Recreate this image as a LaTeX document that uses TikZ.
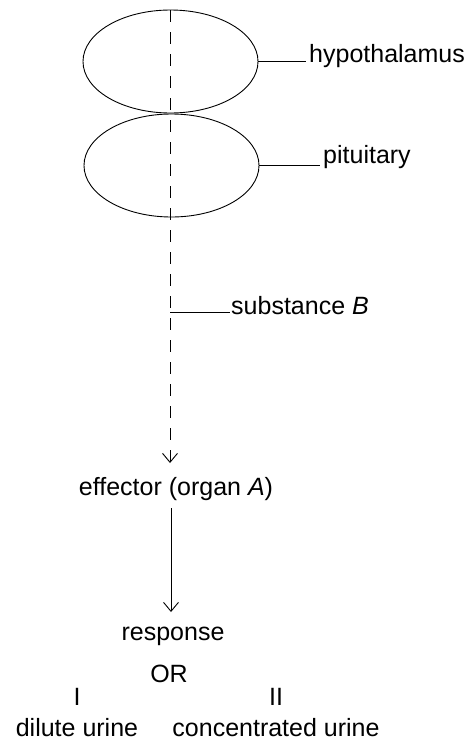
\documentclass[tikz,border=0pt]{standalone}
\usepackage{fontspec}
\setmainfont{Liberation Sans}
\usetikzlibrary{shapes.geometric,arrows.meta}
\begin{document}
\begin{tikzpicture}[x=1pt,y=-1pt,
  organ/.style={draw,ellipse,line width=0.9pt,minimum width=175pt,minimum height=103pt,inner sep=0pt},
  lbl/.style={inner sep=0pt,font=\fontsize{25}{30}\selectfont},
  leader/.style={line width=0.9pt},
  dashline/.style={line width=0.9pt,dash pattern=on 12pt off 10pt},
  tip/.style={-{Straight Barb[length=9pt,width=15pt,line width=0.9pt]}}]
\useasboundingbox (0,0) rectangle (471,742);
\node[organ] (hyp) at (170.5,61.5) {};
\node[organ] (pit) at (171.5,165.5) {};
\node[lbl,anchor=mid west] (hyptxt) at (309,60) {hypothalamus};
\node[lbl,anchor=mid west] (pittxt) at (323,161) {pituitary};
\node[lbl,anchor=mid west] (subtxt) at (231,312) {substance \textit{B}};
\node[lbl,anchor=base] (eff) at (176,495) {effector (organ \textit{A})};
\node[lbl,anchor=base] (resp) at (173,640) {response};
\node[lbl,anchor=base] (or) at (169,682) {OR};
\node[lbl,anchor=base] (one) at (77,705) {I};
\node[lbl,anchor=base] (two) at (276,705) {II};
\node[lbl,anchor=base] (dil) at (77,736) {dilute urine};
\node[lbl,anchor=base] (conc) at (276,736) {concentrated urine};
\coordinate (dtop) at (170,10);
\coordinate (dtip) at (170,463);
\coordinate (sb) at (170,312);
\coordinate (stop) at (171,508);
\coordinate (stip) at (171,612);
\draw[dashline,tip] (dtop) -- (dtip);
\draw[leader] (hyp.east) -- ([xshift=-3pt]hyp.east -| hyptxt.west);
\draw[leader] (pit.east) -- ([xshift=-3pt]pit.east -| pittxt.west);
\draw[leader] (sb) -- ([xshift=-1pt]sb -| subtxt.west);
\draw[leader,tip] (stop) -- (stip);
\end{tikzpicture}
\end{document}
